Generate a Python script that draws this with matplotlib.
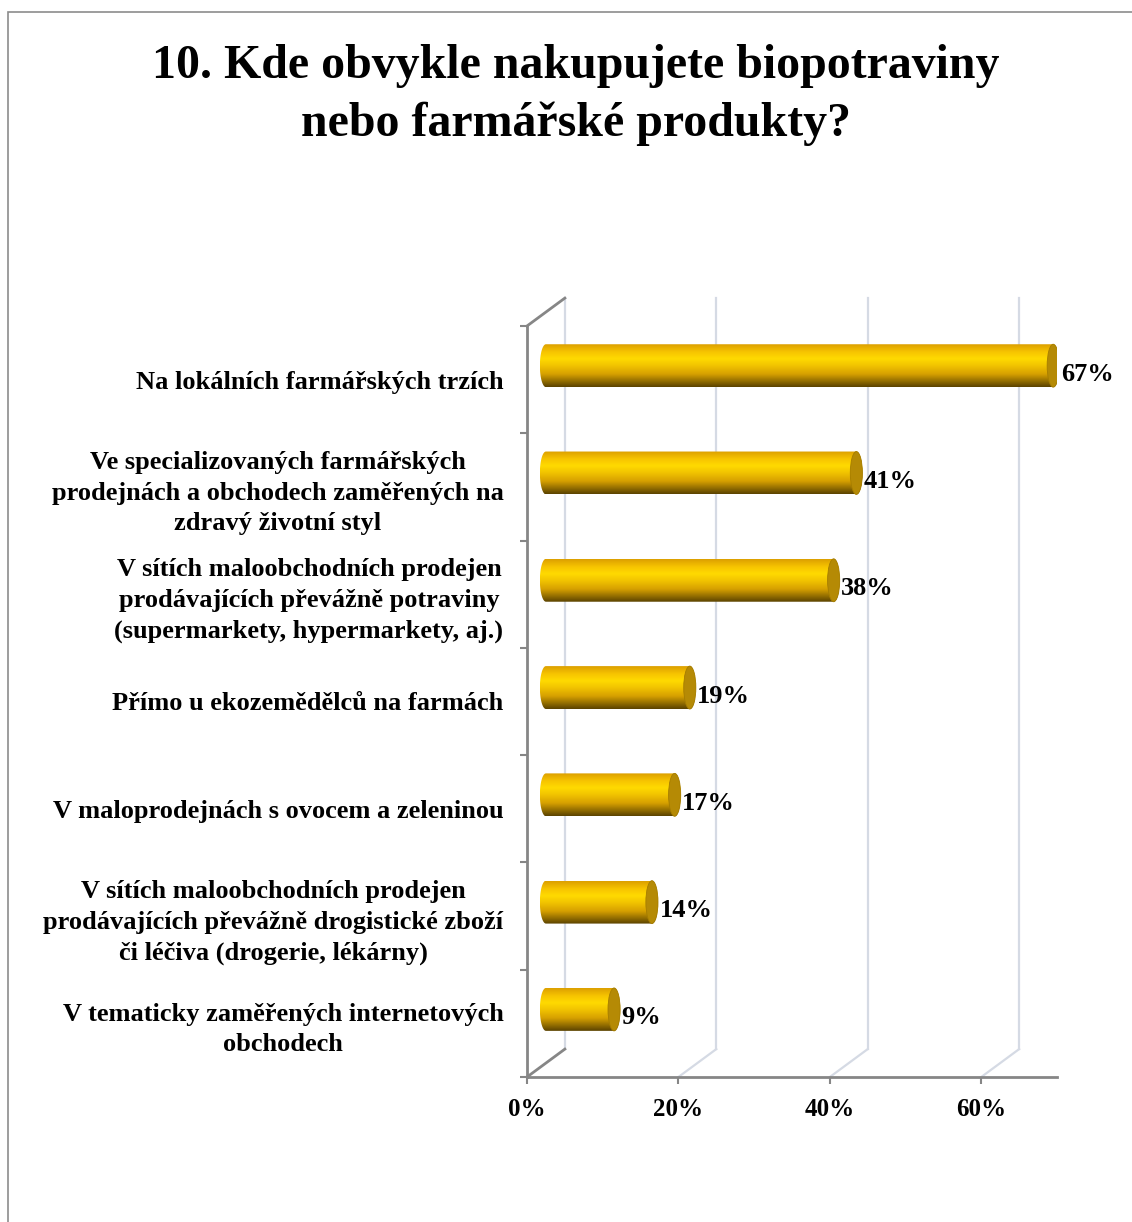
import numpy as np
import matplotlib
matplotlib.use('Agg')
import matplotlib.pyplot as plt
from matplotlib.path import Path
from matplotlib.patches import PathPatch, Ellipse, Rectangle
from matplotlib.colors import LinearSegmentedColormap

# ---------------- data ----------------
categories = [
    "Na lokálních farmářských trzích",
    "Ve specializovaných farmářských\nprodejnách a obchodech zaměřených na\nzdravý životní styl",
    "V sítích maloobchodních prodejen\nprodávajících převážně potraviny\n(supermarkety, hypermarkety, aj.)",
    "Přímo u ekozemědělců na farmách",
    "V maloprodejnách s ovocem a zeleninou",
    "V sítích maloobchodních prodejen\nprodávajících převážně drogistické zboží\nči léčiva (drogerie, lékárny)",
    "V tematicky zaměřených internetových\nobchodech",
]
values = [67, 41, 38, 19, 17, 14, 9]
xticks = [0, 20, 40, 60]
title = "10. Kde obvykle nakupujete biopotraviny\nnebo farmářské produkty?"

# ---------------- style ----------------
plt.rcParams['font.family'] = ['Liberation Serif', 'DejaVu Serif']
plt.rcParams['font.weight'] = 'bold'

W, H = 1132, 1222
fig = plt.figure(figsize=(W / 100, H / 100), dpi=100)
fig.patch.set_facecolor('white')

# outer chart border
fig.patches.append(Rectangle((8 / W, -0.05), 1.0, 1 - 12 / H + 0.05,
                             transform=fig.transFigure, fill=False,
                             edgecolor='#8c8c8c', lw=1.2))

fig.text(576 / W, 1 - 95 / H, title, ha='center', va='center',
         fontsize=34.5, fontweight='bold', linespacing=1.37)

ax = fig.add_axes([527 / W, 1 - 1077 / H, 530 / W, 751 / H])
n = len(categories)
xmax = 70
ax.set_xlim(0, xmax)
ax.set_ylim(-0.5, n - 0.5)

dx = 5.0      # depth offset in x (data units, %)
dy = 0.26     # depth offset in y (category units)
axis_col = '#868686'
grid_col = '#d5dae4'

ylo, yhi = -0.5, n - 0.5
# back wall gridlines
for t in xticks:
    ax.plot([t + dx, t + dx], [ylo + dy, yhi + dy], color=grid_col, lw=1.6,
            clip_on=False, zorder=1)
    if t != 0:
        ax.plot([t, t + dx], [ylo, ylo + dy], color=grid_col, lw=1.6,
                clip_on=False, zorder=1)
# left wall edges
ax.plot([0, dx], [yhi, yhi + dy], color=axis_col, lw=2, clip_on=False, zorder=2)
ax.plot([0, dx], [ylo, ylo + dy], color=axis_col, lw=2, clip_on=False, zorder=2)

# cylinder gradient
cmap = LinearSegmentedColormap.from_list('gold', [
    (0.0, '#5a4200'), (0.12, '#8c6800'), (0.3, '#d6a000'), (0.5, '#f2c400'),
    (0.66, '#ffda00'), (0.82, '#f7c400'), (1.0, '#dc9f00')])
grad = np.linspace(0, 1, 256).reshape(-1, 1)

ew = 0.8   # ellipse half width (data %)
h = 0.2    # cylinder half height (categories)
th = np.linspace(np.pi / 2, 3 * np.pi / 2, 40)
th2 = np.linspace(-np.pi / 2, np.pi / 2, 40)
for i, v in enumerate(values):
    yc = n - 1 - i + dy / 2
    x0 = dx / 2
    x1 = v + dx / 2
    left = np.column_stack([x0 + ew * np.cos(th), yc + h * np.sin(th)])
    right = np.column_stack([x1 + ew * np.cos(th2), yc + h * np.sin(th2)])
    verts = np.vstack([left, right, left[:1]])
    path = Path(verts)
    patch = PathPatch(path, transform=ax.transData, facecolor='none',
                      edgecolor='none')
    ax.add_patch(patch)
    im = ax.imshow(grad, cmap=cmap, extent=[x0 - ew, x1 + ew, yc - h, yc + h],
                   origin='lower', aspect='auto', zorder=3, interpolation='bilinear')
    im.set_clip_path(patch)
    cap = Ellipse((x1, yc), 2 * ew, 2 * h, facecolor='#b58a05',
                  edgecolor='#a57c00', lw=0.6, zorder=4)
    ax.add_patch(cap)
    ax.text(x1 + ew + 0.2, yc - 0.08, f"{v}%", ha='left', va='center',
            fontsize=19, fontweight='bold', zorder=5)

ax.set_xlim(0, xmax)
ax.set_ylim(-0.5, n - 0.5)
ax.set_aspect('auto')

for s in ['top', 'right']:
    ax.spines[s].set_visible(False)
for s in ['left', 'bottom']:
    ax.spines[s].set_color(axis_col)
    ax.spines[s].set_linewidth(2)

ax.set_xticks(xticks)
ax.set_xticklabels([f"{t}%" for t in xticks], fontsize=18, fontweight='bold')
ax.tick_params(axis='x', length=5, width=1.5, color=axis_col, pad=10)

ax.set_yticks([n - 1 - i for i in range(n)])
ax.set_yticklabels(categories, fontsize=19, fontweight='bold')
for t in ax.get_yticklabels():
    t.set_multialignment('center')
    t.set_linespacing(1.42)
ax.tick_params(axis='y', which='major', length=0, pad=17)
ax.set_yticks(np.arange(-0.5, n), minor=True)
ax.tick_params(axis='y', which='minor', length=5, width=1.5, color=axis_col)

fig.savefig('out.png', dpi=100, facecolor='white')
